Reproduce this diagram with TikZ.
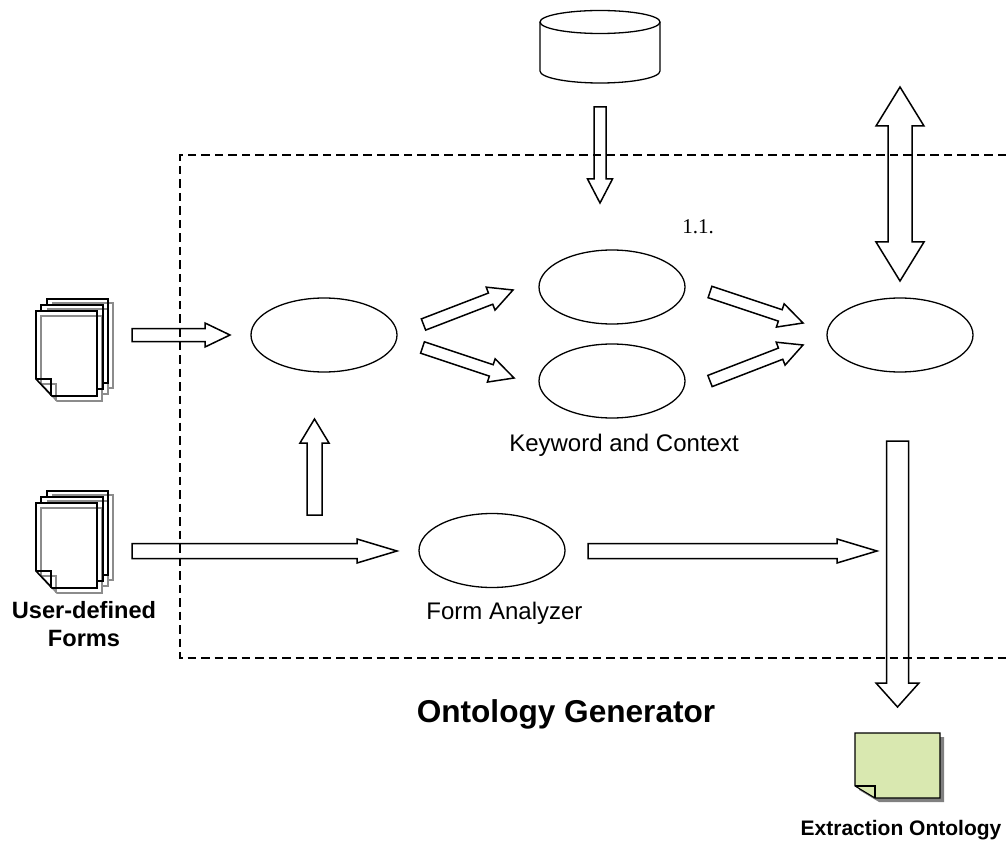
\documentclass[tikz,border=0pt]{standalone}
\usepackage{fontspec}
\setmainfont{Liberation Sans}
\newfontfamily\serifnum{Liberation Serif}
\usetikzlibrary{calc,shapes.geometric}
\tikzset{
  x=1pt,y=-1pt,
  blockarrow/.style={draw=black,line width=1.5pt,line join=miter},
  process/.style={draw=black,line width=1.3pt,ellipse,minimum width=146pt,minimum height=74pt,inner sep=0pt},
  boundary/.style={draw=black,line width=1.5pt,dash pattern=on 8.5pt off 5pt},
  page/.style={line width=1.6pt,fill=none},
  black page/.style={page,draw=black},
  gray page/.style={page,draw=black!45},
  caption/.style={font=\fontsize{24}{27}\selectfont,align=center,inner sep=0pt,anchor=base},
  strong/.style={font=\fontsize{23.6}{27.5}\bfseries\selectfont,align=center,inner sep=0pt,anchor=base},
}
\newcommand\blockarrow[5]{% from, to, shaft half, head half, head length
  \coordinate (hb) at ($(#2)!#5pt!(#1)$);
  \draw[blockarrow] ($(#1)!#3pt!90:(#2)$) -- ($(hb)!#3pt!90:(#2)$) -- ($(hb)!#4pt!90:(#2)$) -- (#2)
    -- ($(hb)!#4pt!-90:(#2)$) -- ($(hb)!#3pt!-90:(#2)$) -- ($(#1)!#3pt!-90:(#2)$) -- cycle;
}
\newcommand\doublearrow[5]{% end, end, shaft half, head half, head length
  \coordinate (ha) at ($(#1)!#5pt!(#2)$);
  \coordinate (hb) at ($(#2)!#5pt!(#1)$);
  \draw[blockarrow] (#1) -- ($(ha)!#4pt!90:(#2)$) -- ($(ha)!#3pt!90:(#2)$) -- ($(hb)!#3pt!90:(#2)$) -- ($(hb)!#4pt!90:(#2)$) -- (#2)
    -- ($(hb)!#4pt!-90:(#2)$) -- ($(hb)!#3pt!-90:(#2)$) -- ($(ha)!#3pt!-90:(#2)$) -- ($(ha)!#4pt!-90:(#2)$) -- cycle;
}
\newcommand\onesheet[3]{% dx, dy, style: dog-eared sheet outline
  \draw[#3] (36+#1,379+#2) -- (36+#1,311+#2) -- (97+#1,311+#2) -- (97+#1,396+#2) -- (52+#1,396+#2) -- cycle;
  \draw[#3] (36+#1,379+#2) -- (51+#1,379+#2) -- (51+#1,396+#2);
}
\newcommand\docstack[1]{% vertical offset
  \draw[gray page] (52,303+#1) -- (113,303+#1) -- (113,388+#1) -- (108,388+#1);
  \draw[gray page] (47,309+#1) -- (108,309+#1) -- (108,394+#1) -- (102,394+#1);
  \onesheet{5}{5+#1}{gray page}
  \draw[black page] (41,311+#1) -- (41,305+#1) -- (103,305+#1) -- (103,389+#1) -- (97,389+#1);
  \draw[black page] (47,305+#1) -- (47,299+#1) -- (108,299+#1) -- (108,383+#1) -- (103,383+#1);
  \onesheet{0}{#1}{black page}
}
\begin{document}
\begin{tikzpicture}
\useasboundingbox (0,0) rectangle (1006,842);
% boundary of the generator
\draw[boundary] (1006,155) -- (180,155) -- (180,658) -- (1006,658);
% processes
\node[process] (parser) at (324,335) {};
\node[process] (upper) at (612,287) {};
\node[process] (lower) at (612,381) {};
\node[process] (merger) at (900,335) {};
\node[process] (form) at (492,550.5) {};
% database
\coordinate (dbtop) at (600,22);
\draw[line width=1.3pt] (540,22) -- (540,71) arc[start angle=180,end angle=0,x radius=60,y radius=12] -- (660,22);
\draw[line width=1.3pt] (dbtop) ellipse[x radius=60,y radius=11.5];
% document stacks
\docstack{0}
\docstack{192}
% green note
\fill[black!50] (859,790) -- (859,737) -- (944,737) -- (944,802) -- (879,802) -- cycle;
\draw[line width=1.1pt,fill={rgb,255:red,217;green,232;blue,176}] (855,786) -- (855,733) -- (940,733) -- (940,798) -- (875,798) -- cycle;
\draw[line width=1.1pt] (855,786) -- (875,786) -- (875,798);
% arrow ends
\coordinate (a1s) at (132,335); \coordinate (a1e) at (230,335);
\coordinate (a2s) at (600,107); \coordinate (a2e) at (600,203);
\coordinate (a3s) at (423.5,324.5); \coordinate (a3e) at (513,290);
\coordinate (a4s) at (422.5,347.5); \coordinate (a4e) at (514,378);
\coordinate (a5s) at (710,292); \coordinate (a5e) at (803,323);
\coordinate (a6s) at (710,381); \coordinate (a6e) at (803,345);
\coordinate (a7s) at (314.5,515); \coordinate (a7e) at (314.5,419);
\coordinate (a8s) at (132,551); \coordinate (a8e) at (397,551);
\coordinate (a9s) at (588,551); \coordinate (a9e) at (877,551);
\coordinate (a10s) at (897.5,441); \coordinate (a10e) at (897.5,707);
\coordinate (a11s) at (900,87); \coordinate (a11e) at (900,281);
\blockarrow{a1s}{a1e}{6.5}{12}{25}
\blockarrow{a2s}{a2e}{6}{12.5}{24}
\blockarrow{a3s}{a3e}{6}{12.3}{24}
\blockarrow{a4s}{a4e}{6}{12.3}{24}
\blockarrow{a5s}{a5e}{6}{12.3}{24}
\blockarrow{a6s}{a6e}{6}{12.3}{24}
\blockarrow{a7s}{a7e}{7.5}{14.5}{24}
\blockarrow{a8s}{a8e}{7.5}{12}{40}
\blockarrow{a9s}{a9e}{7.5}{12}{40}
\blockarrow{a10s}{a10e}{11}{21.5}{24}
\doublearrow{a11s}{a11e}{12}{24}{39}
% labels
\node[font=\serifnum\fontsize{21}{24}\selectfont,inner sep=0pt,anchor=base] (num) at (698,234) {1.1.};
\node[caption] (kc) at (624,451) {Keyword and Context};
\node[caption] (fa) at (504.5,619) {Form Analyzer};
\node[strong] (uf1) at (84,618) {User-defined};
\node[strong] (uf2) at (84,646) {Forms};
\node[strong,font=\fontsize{31.6}{35}\bfseries\selectfont] (og) at (566,722) {Ontology Generator};
\node[strong,font=\fontsize{21}{24}\bfseries\selectfont] (eo) at (901,835) {Extraction Ontology};
\end{tikzpicture}
\end{document}
